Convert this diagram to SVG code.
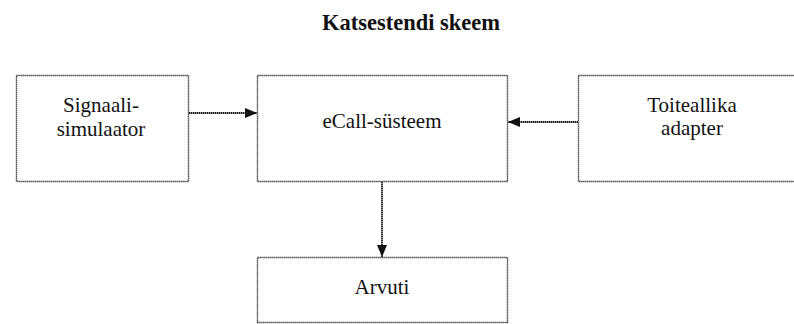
<svg xmlns="http://www.w3.org/2000/svg" width="794" height="324" viewBox="0 0 794 324">
<style>
.box{fill:#fff;stroke:#222;stroke-width:1.4;stroke-dasharray:1.2 0.8}
.lbl{font-family:"Liberation Serif","DejaVu Serif",serif;font-size:21px;fill:#111;text-anchor:middle}
.title{font-family:"Liberation Serif","DejaVu Serif",serif;font-size:22.5px;font-weight:bold;fill:#111;text-anchor:middle}
.conn{stroke:#1a1a1a;stroke-width:1.8;stroke-dasharray:1.5 0.5;fill:none}
</style>
<defs>
<marker id="arr" viewBox="0 0 12 10" refX="12" refY="5" markerWidth="12" markerHeight="10" markerUnits="userSpaceOnUse" orient="auto">
<path d="M0,0 L12,5 L0,10 Z" fill="#111"/>
</marker>
</defs>
<rect width="794" height="324" fill="#fff"/>
<text class="title" x="411" y="30">Katsestendi skeem</text>
<g id="signaali">
<rect class="box" x="16.5" y="75.5" width="172" height="106"/>
<text class="lbl" x="101" y="112">Signaali-</text>
<text class="lbl" x="101" y="136">simulaator</text>
</g>
<g id="ecall">
<rect class="box" x="257.5" y="75.5" width="250" height="106"/>
<text class="lbl" x="382" y="128">eCall-süsteem</text>
</g>
<g id="toiteallika">
<rect class="box" x="578.5" y="75.5" width="230" height="106"/>
<text class="lbl" x="692" y="112">Toiteallika</text>
<text class="lbl" x="692" y="135">adapter</text>
</g>
<g id="arvuti">
<rect class="box" x="257.5" y="257.5" width="250" height="65"/>
<text class="lbl" x="382" y="294">Arvuti</text>
</g>
<g id="connectors">
<line class="conn" x1="189" y1="113" x2="257" y2="113" marker-end="url(#arr)"/>
<line class="conn" x1="578" y1="122" x2="508" y2="122" marker-end="url(#arr)"/>
<line class="conn" x1="382" y1="182" x2="382" y2="257" marker-end="url(#arr)"/>
</g>
</svg>
